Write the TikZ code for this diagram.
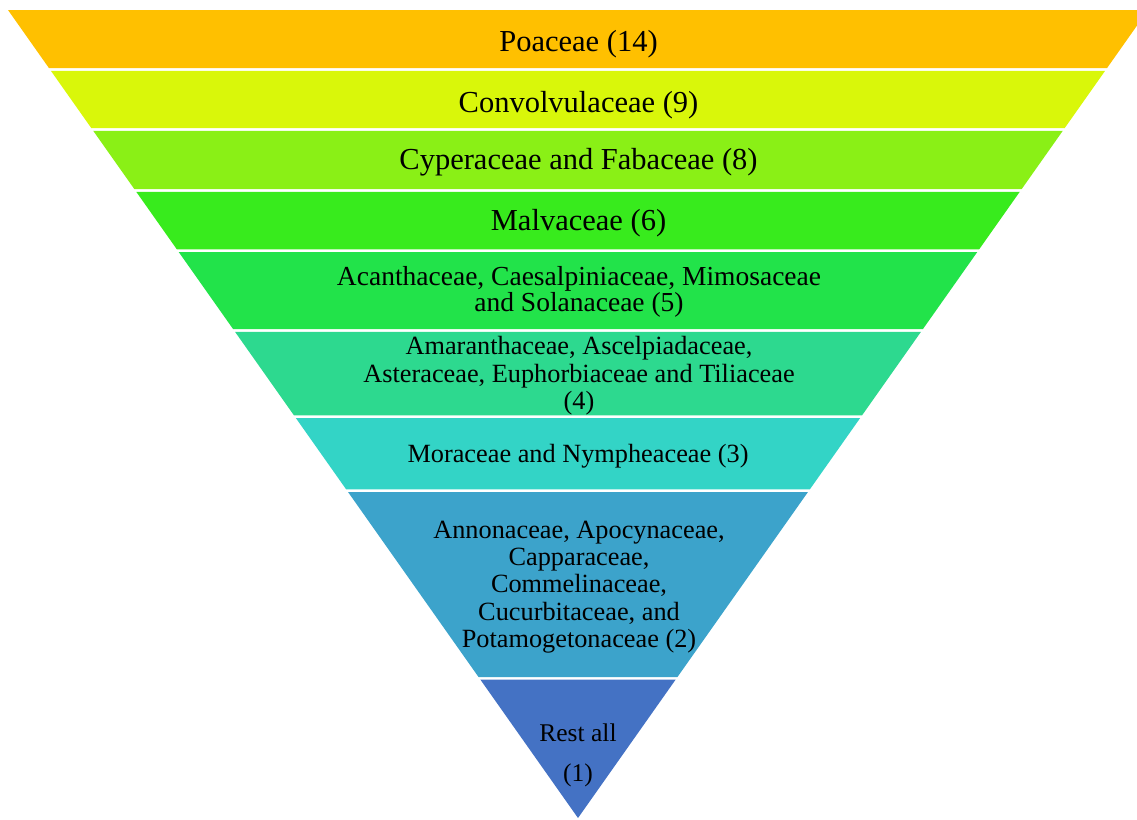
\documentclass[tikz,border=0pt]{standalone}
\usepackage{fontspec}
\setmainfont{Liberation Serif}
\definecolor{bandA}{HTML}{FFC000}
\definecolor{bandB}{HTML}{D9F70A}
\definecolor{bandC}{HTML}{8AF016}
\definecolor{bandD}{HTML}{38EB1D}
\definecolor{bandE}{HTML}{22E34A}
\definecolor{bandF}{HTML}{2DD98F}
\definecolor{bandG}{HTML}{33D4C6}
\definecolor{bandH}{HTML}{3CA3CB}
\definecolor{bandI}{HTML}{4472C4}
\tikzset{
  lbl/.style={anchor=base, align=center, inner sep=0pt, text=black},
  big/.style={lbl, font=\fontsize{30.5}{33}\selectfont},
  mid/.style={lbl, font=\fontsize{27.5}{26.7}\selectfont},
  small/.style={lbl, font=\fontsize{26.3}{27.3}\selectfont},
}
\begin{document}
\begin{tikzpicture}[x=1pt,y=-1pt]
\useasboundingbox (0,0) rectangle (1137,819);
\begin{scope}
\clip (0,0) rectangle (1137,819);
% inverted triangle: apex (578,818), half-width grows 0.70545 per unit upward
\foreach \t/\b/\c in {10/68.2/bandA, 70.8/128.2/bandB, 130.8/189.2/bandC,
    191.8/249.4/bandD, 252/329.2/bandE, 331.8/415.4/bandF, 418/489.4/bandG,
    492/677/bandH, 679.6/818/bandI}{
  \pgfmathsetmacro\ht{0.70545*(818-\t)}
  \pgfmathsetmacro\hb{0.70545*(818-\b)}
  \fill[\c] ({578-\ht},\t) -- ({578+\ht},\t) -- ({578+\hb},\b) -- ({578-\hb},\b) -- cycle;
}
\end{scope}
% labels: the base anchor of a multi-line label is the baseline of its last line
\node[big] (poa) at (578.5,51) {Poaceae (14)};
\node[big] (con) at (578.5,112) {Convolvulaceae (9)};
\node[big] (cyp) at (578.5,169.5) {Cyperaceae and Fabaceae (8)};
\node[big] (mal) at (578.5,230) {Malvaceae (6)};
\node[mid] (aca) at (579,311.7) {Acanthaceae, Caesalpiniaceae, Mimosaceae\\and Solanaceae (5)};
\node[small, font=\fontsize{26.3}{27.5}\selectfont] (ama) at (579,409.5)
  {Amaranthaceae, Ascelpiadaceae,\\Asteraceae, Euphorbiaceae and Tiliaceae\\(4)};
\node[small] (mor) at (578,462.3) {Moraceae and Nympheaceae (3)};
\node[small] (ann) at (579,647.5) {Annonaceae, Apocynaceae,\\Capparaceae,\\Commelinaceae,\\Cucurbitaceae, and\\Potamogetonaceae (2)};
\node[small, font=\fontsize{25.5}{26}\selectfont] (res) at (578,781.5) {Rest all\\[14.5pt](1)};
\end{tikzpicture}
\end{document}
